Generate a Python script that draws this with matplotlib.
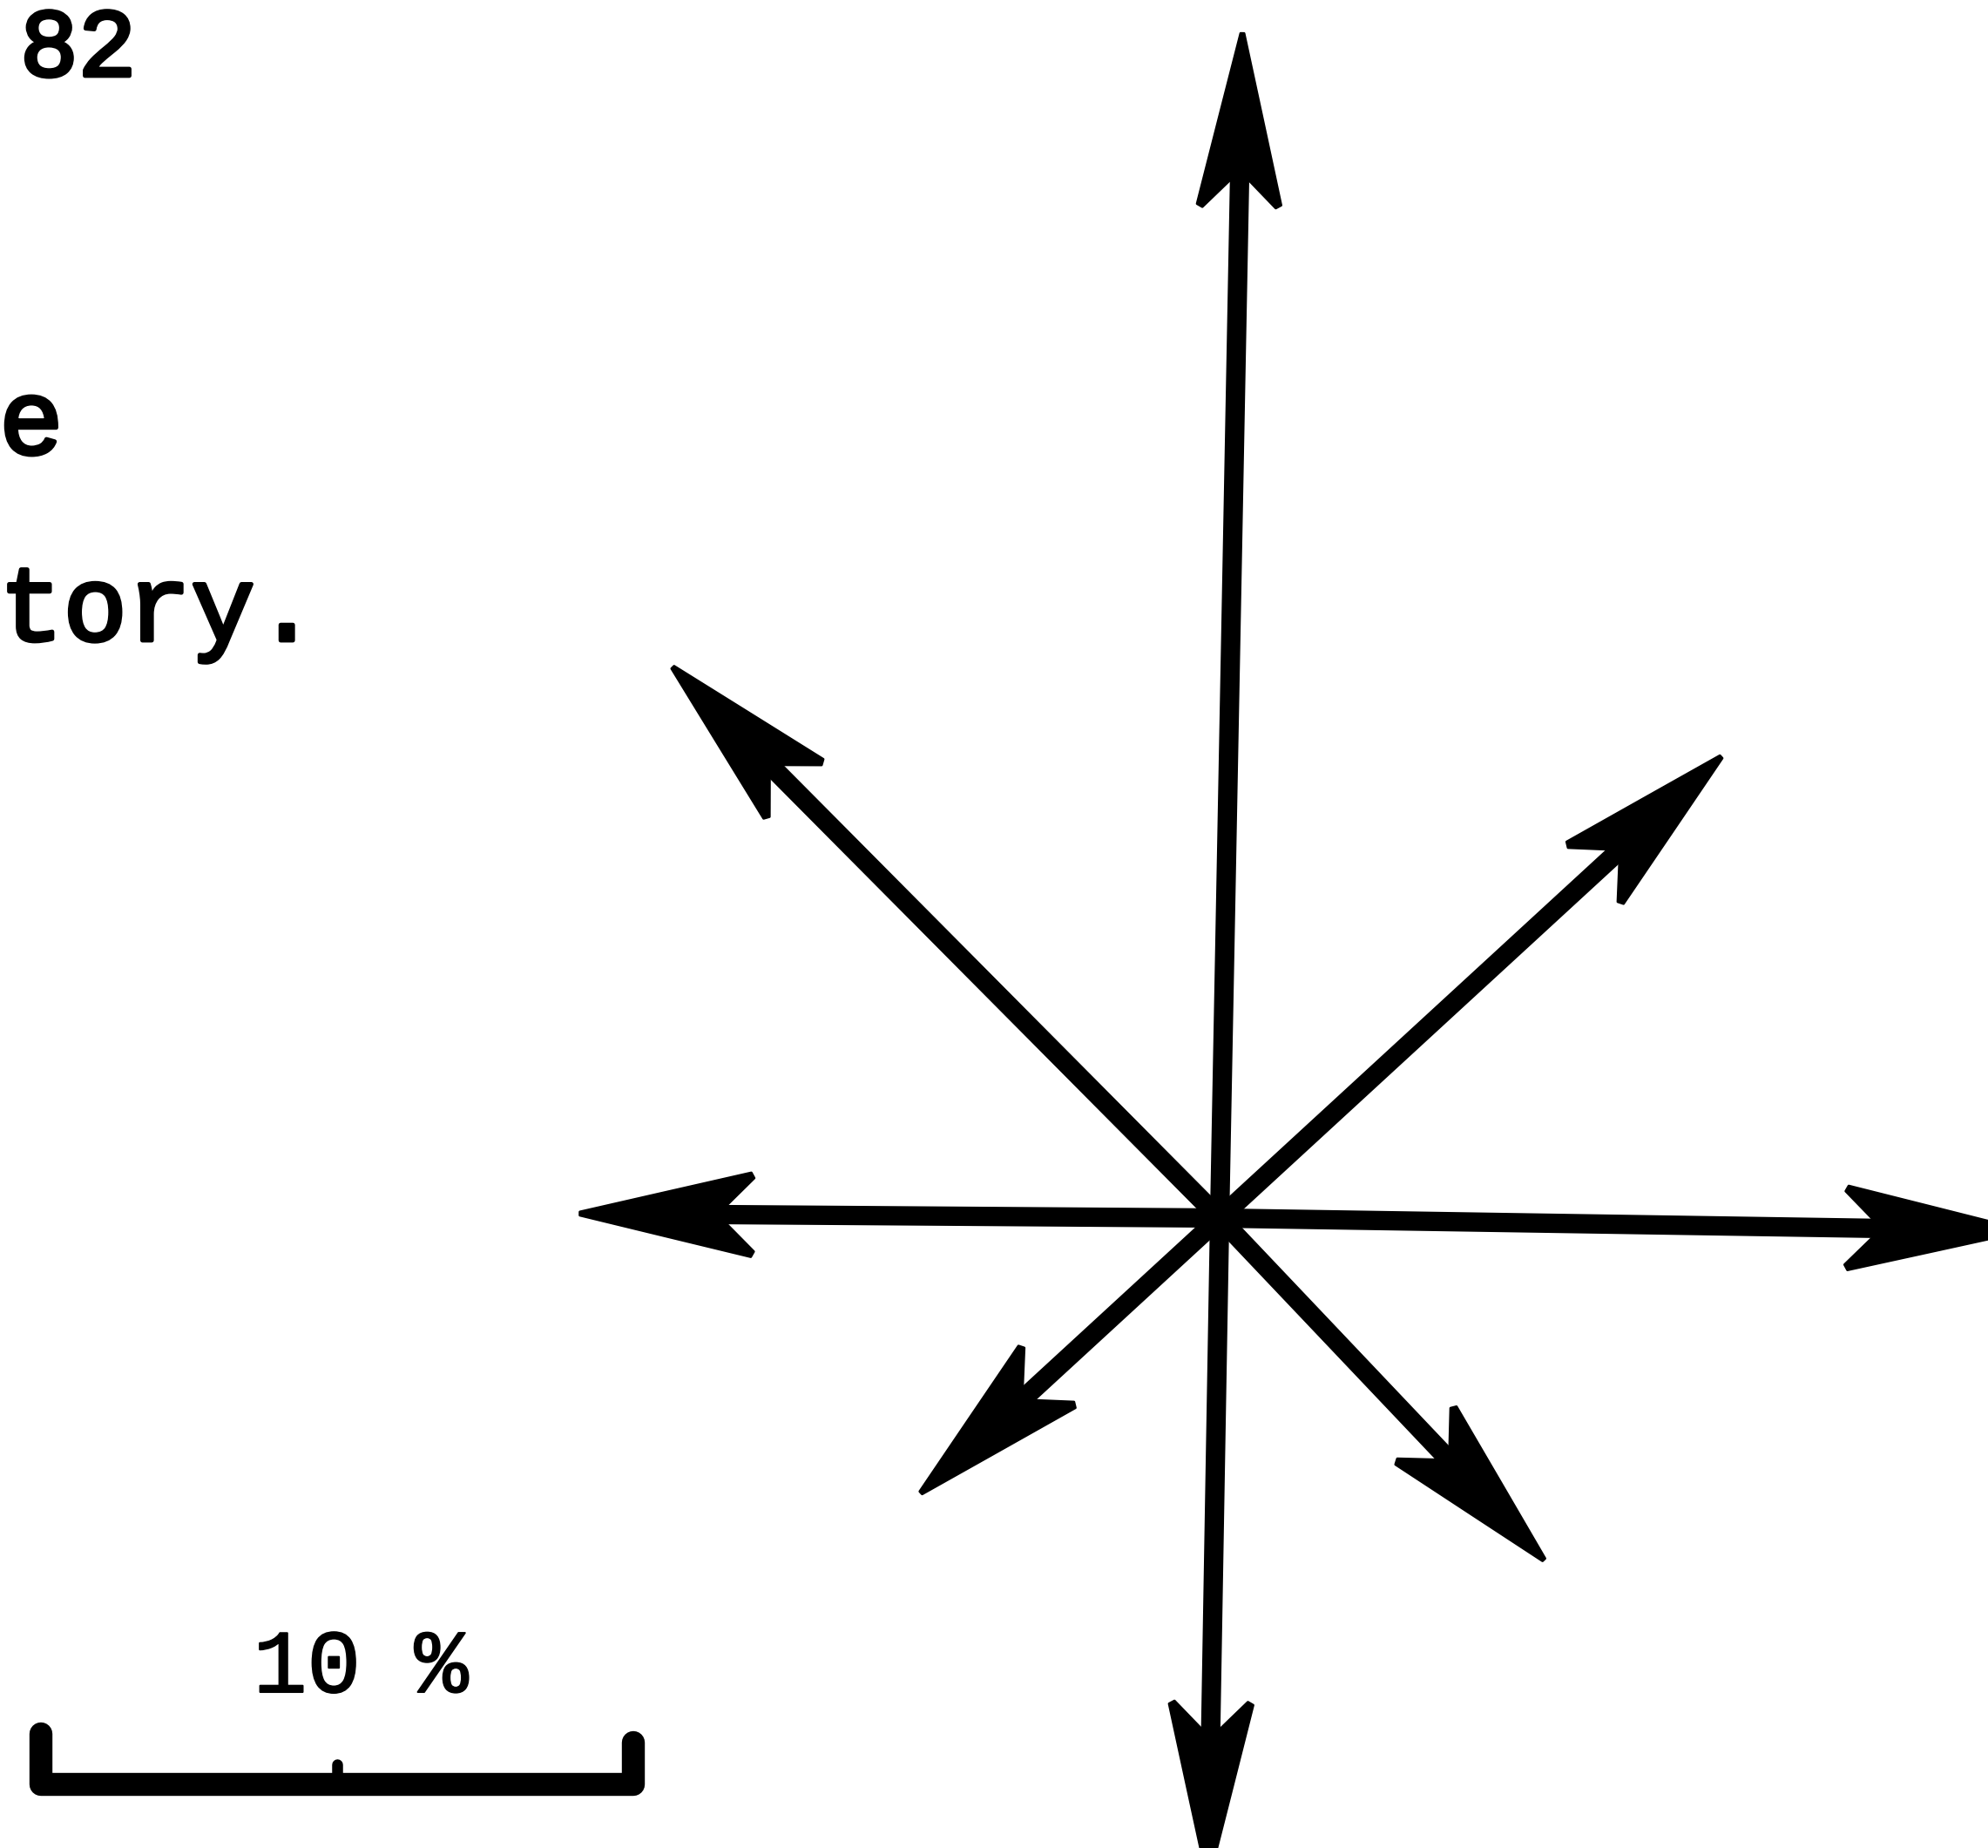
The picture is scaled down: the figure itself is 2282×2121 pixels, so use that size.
import matplotlib.pyplot as plt
import matplotlib.patheffects as pe
import numpy as np
from matplotlib.patches import Polygon

# wind directions, arrow bearing (deg, counter-clockwise from east) and frequency in %
directions = ["N", "NE", "E", "SE", "S", "SW", "W", "NW"]
angles_deg = [88.9, 42.6, -0.9, -46.5, -91.0, -137.4, 179.6, 134.8]
percent = [20.0, 11.5, 13.5, 7.95, 11.1, 6.85, 10.8, 13.1]

scale_value = 10
scale_label = "10 %"
fragments = ["82", "e", "tory."]

W, H = 2282, 2121
PX = 68.0  # pixels per percent
cx, cy = 1400, 1398

HEAD_LEN = 2.94
HEAD_W = 0.71
NOTCH = 2.45


def draw_arrow(ax, angle, length):
    a = np.deg2rad(angle)
    u = np.array([np.cos(a), np.sin(a)])
    v = np.array([-u[1], u[0]])
    tip = u * length
    base = tip - u * (NOTCH - 0.1)
    ax.plot([0, base[0]], [0, base[1]], color="black", lw=16, solid_capstyle="butt")
    local = [(0, 0.03), (-1.4, 0.36), (-HEAD_LEN + 0.05, HEAD_W), (-HEAD_LEN, HEAD_W - 0.09),
             (-NOTCH, 0.13), (-NOTCH, -0.13), (-HEAD_LEN, -HEAD_W + 0.09),
             (-HEAD_LEN + 0.05, -HEAD_W), (-1.4, -0.36), (0, -0.03)]
    pts = [tip + s * u + t * v for s, t in local]
    ax.add_patch(Polygon(pts, closed=True, facecolor="black", edgecolor="black",
                         lw=2, joinstyle="round"))


fig = plt.figure(figsize=(W / 100, H / 100), dpi=100)
ax = fig.add_axes([0, 0, 1, 1])
ax.set_xlim(-cx / PX, (W - cx) / PX)
ax.set_ylim(-(H - cy) / PX, cy / PX)
ax.axis("off")

for ang, p in zip(angles_deg, percent):
    draw_arrow(ax, ang, p)

# scale bar
x0 = -19.9
x1 = x0 + scale_value
ax.plot([x0, x0, x1, x1], [-8.7, -9.56, -9.56, -8.86], color="black", lw=19,
        solid_joinstyle="round", solid_capstyle="round")
ax.plot([(x0 + x1) / 2] * 2, [-9.56, -9.22], color="black", lw=9, solid_capstyle="round")
ax.text(-14.5, -8.0, scale_label, ha="center", va="baseline", fontsize=74,
        family="Liberation Mono",
        path_effects=[pe.withStroke(linewidth=1.5, foreground="black")])

# clipped text fragments on the left edge
heavy = [pe.withStroke(linewidth=3.5, foreground="black")]
text_kw = dict(ha="left", va="baseline", family="Liberation Mono", path_effects=heavy)
ax.text(-20.25, 19.28, fragments[0], fontsize=80, **text_kw)
ax.text(-20.6, 12.9, fragments[1], fontsize=88, **text_kw)
ax.text(-20.6, 9.75, fragments[2], fontsize=88, **text_kw)

fig.savefig("out.png", dpi=100)
